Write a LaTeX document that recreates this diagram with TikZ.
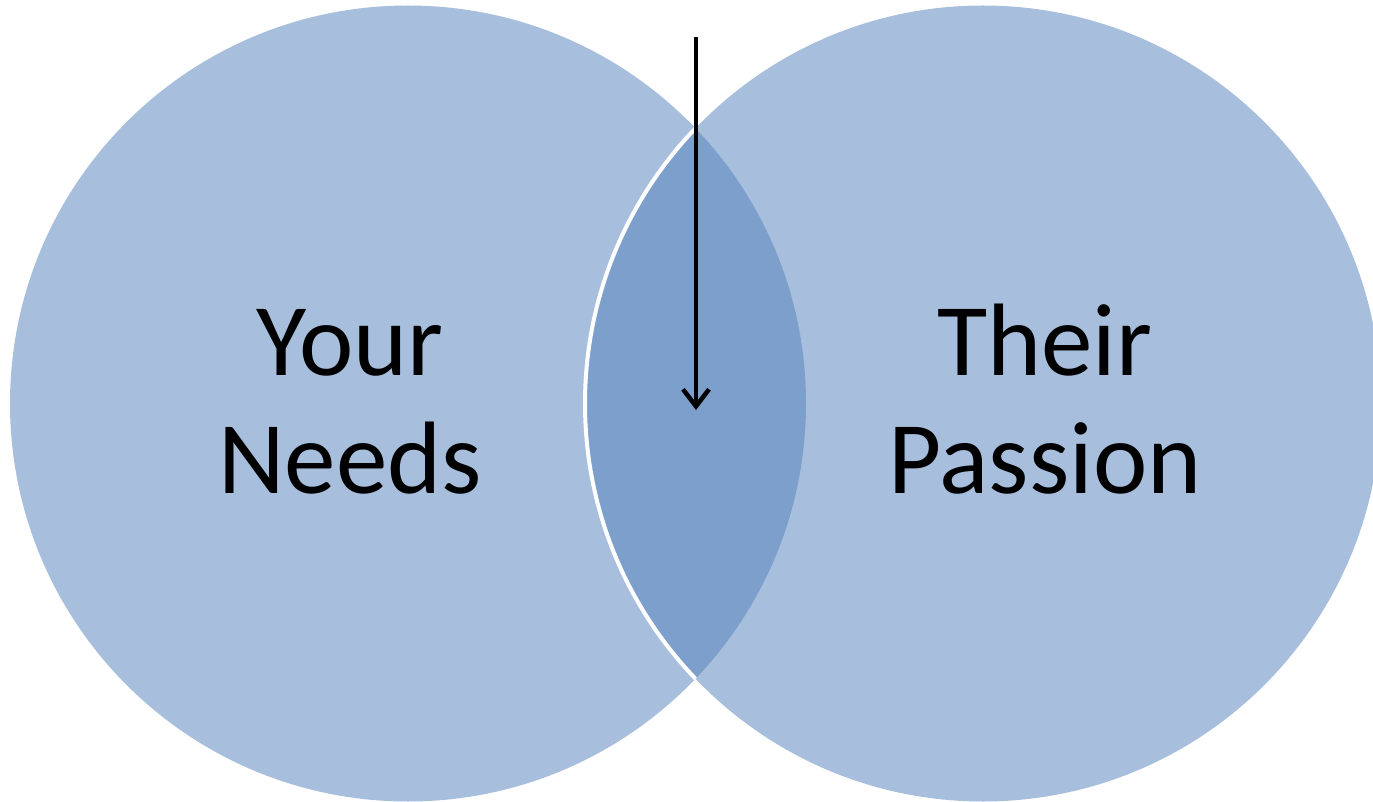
\documentclass[tikz,border=0pt]{standalone}
\usepackage{fontspec}
\setmainfont{Carlito}
\usetikzlibrary{arrows.meta}
\definecolor{setfill}{HTML}{A7BFDD}
\definecolor{overlapfill}{HTML}{7CA0CB}
\begin{document}
\begin{tikzpicture}[x=1pt,y=-1pt,
  setlabel/.style={align=center,font=\fontsize{103}{118}\selectfont,text=black,inner sep=0pt},
  pointer/.style={line width=4.5pt,-{Straight Barb[length=17pt,width=26pt,line width=4.5pt]}}]
  \useasboundingbox (0,0) rectangle (1373,802);
  % the two sets
  \fill[setfill] (408,403.5) circle[radius=398];
  \fill[setfill] (983,403.5) circle[radius=398];
  % overlap region with its white edge
  \begin{scope}
    \clip (408,403.5) circle[radius=398];
    \fill[overlapfill] (983,403.5) circle[radius=398];
    \draw[white,line width=4pt] (983,403.5) circle[radius=398];
  \end{scope}
  % labels (base anchor sits on the last line)
  \node[setlabel,anchor=base] (needs) at (350,493) {Your\\Needs};
  \node[setlabel,anchor=base] (passion) at (1045,493) {Their\\Passion};
  % pointer into the overlap
  \coordinate (top) at (696,37);
  \coordinate (mid) at (696,410);
  \draw[pointer] (top) -- (mid);
\end{tikzpicture}
\end{document}
